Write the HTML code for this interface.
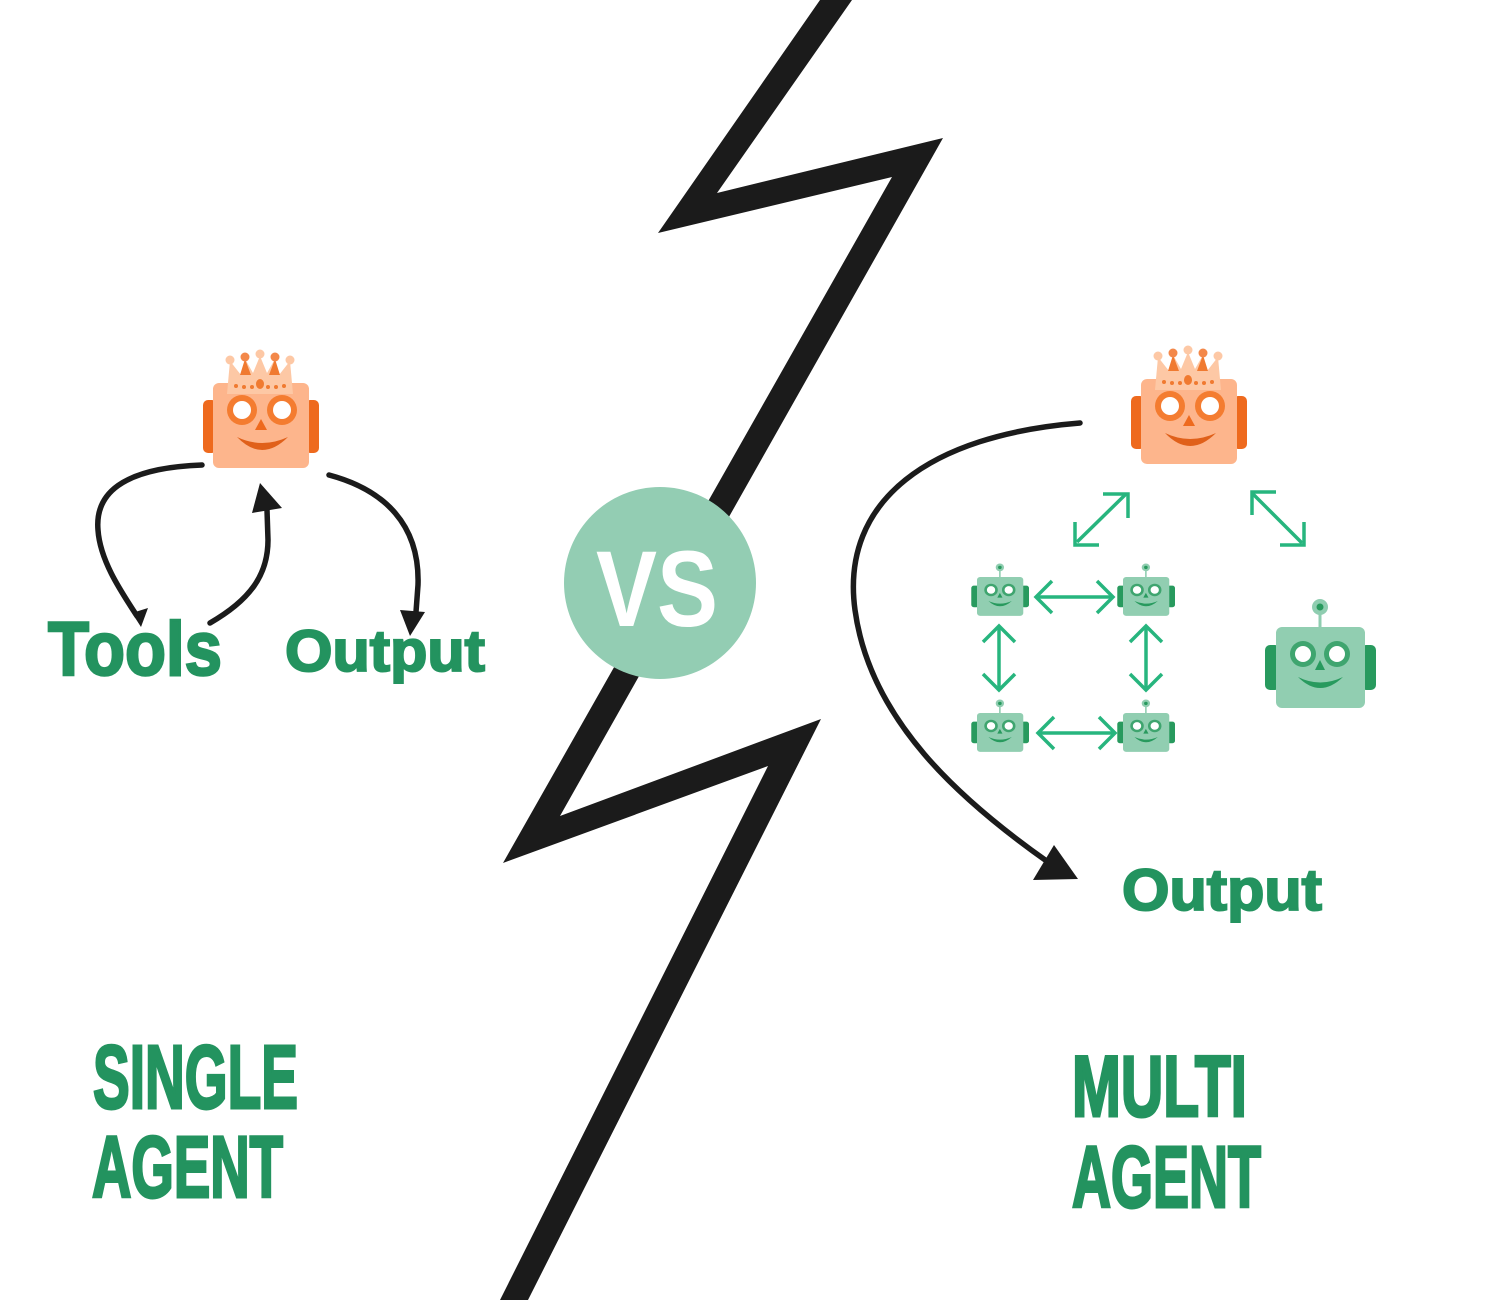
<!DOCTYPE html>
<html>
<head>
<meta charset="utf-8">
<style>
html,body{margin:0;padding:0;background:#ffffff;}
svg{display:block;}
</style>
</head>
<body>
<svg width="1500" height="1300" viewBox="0 0 1500 1300" xmlns="http://www.w3.org/2000/svg">
<defs>
  <g id="orobot">
    <rect x="-10" y="17" width="14" height="53" rx="5" fill="#ee6a1e"/>
    <rect x="92" y="17" width="14" height="53" rx="5" fill="#ee6a1e"/>
    <rect x="0" y="0" width="96" height="85" rx="6" fill="#fdb58c"/>
    <path d="M14,11 L17,-22 L28,-8 L32,-24 L40,-10 L47,-27 L54,-10 L62,-24 L66,-8 L77,-22 L80,11 Z" fill="#fdc8a5"/>
    <path d="M32,-24 L27,-8 L38,-8 Z" fill="#f07a30"/>
    <path d="M62,-24 L56,-8 L67,-8 Z" fill="#f07a30"/>
    <circle cx="17" cy="-23" r="4.5" fill="#fdc8a5"/>
    <circle cx="32" cy="-26" r="4.5" fill="#f3884a"/>
    <circle cx="47" cy="-29" r="4.5" fill="#fdc8a5"/>
    <circle cx="62" cy="-26" r="4.5" fill="#f3884a"/>
    <circle cx="77" cy="-23" r="4.5" fill="#fdc8a5"/>
    <ellipse cx="47" cy="1" rx="4" ry="5" fill="#f07a30"/>
    <circle cx="23" cy="3" r="2" fill="#f07a30"/>
    <circle cx="31" cy="4" r="2" fill="#f07a30"/>
    <circle cx="39" cy="4" r="2" fill="#f07a30"/>
    <circle cx="55" cy="4" r="2" fill="#f07a30"/>
    <circle cx="63" cy="4" r="2" fill="#f07a30"/>
    <circle cx="71" cy="3" r="2" fill="#f07a30"/>
    <circle cx="29" cy="27" r="15" fill="#f47c30"/>
    <circle cx="29" cy="27" r="9" fill="#ffffff"/>
    <circle cx="69" cy="27" r="15" fill="#f47c30"/>
    <circle cx="69" cy="27" r="9" fill="#ffffff"/>
    <path d="M48,36 L42,47 L54,47 Z" fill="#ee6a1e"/>
    <path d="M24,54 Q49,80 75,54 Q49,66 24,54 Z" fill="#e0601a"/>
  </g>
  <g id="grobot">
    <rect x="-11" y="18" width="15" height="45" rx="5" fill="#289a5e"/>
    <rect x="85" y="18" width="15" height="45" rx="5" fill="#289a5e"/>
    <rect x="42.5" y="-16" width="3" height="18" fill="#8fcdb0"/>
    <circle cx="44" cy="-20" r="8" fill="#8fcdb0"/>
    <circle cx="44" cy="-20" r="3.5" fill="#289a5e"/>
    <rect x="0" y="0" width="89" height="81" rx="6" fill="#91ceb1"/>
    <circle cx="27" cy="27" r="13" fill="#3fa56f"/>
    <circle cx="27" cy="27" r="8" fill="#ffffff"/>
    <circle cx="61" cy="27" r="13" fill="#3fa56f"/>
    <circle cx="61" cy="27" r="8" fill="#ffffff"/>
    <path d="M44,33 L39,43 L49,43 Z" fill="#289a5e"/>
    <path d="M22,50 Q44,72 67,50 Q44,61 22,50 Z" fill="#289a5e"/>
  </g>
</defs>

<!-- lightning bolt -->
<polygon points="820,0 658,233 892,177 503,863 768,766 500,1300 528,1300 821,719 560,816 943,138 717,193 852,0" fill="#1b1b1b"/>

<!-- VS circle -->
<circle cx="660" cy="583" r="96" fill="#93cdb3"/>
<text x="596" y="626" font-family="Liberation Sans, sans-serif" font-weight="bold" font-size="108" fill="#ffffff" textLength="122" lengthAdjust="spacingAndGlyphs">VS</text>

<!-- left robot -->
<use href="#orobot" transform="translate(213,383)"/>

<!-- left arrows -->
<g fill="none" stroke="#1b1b1b" stroke-width="5.5" stroke-linecap="round">
  <path d="M202,465 C120,468 95,495 98,530 C100,560 120,590 137,616"/>
  <path d="M210,623 C250,600 268,575 268,540 L267,510"/>
  <path d="M329,475 C385,490 420,525 418,585 L416,612"/>
</g>
<polygon points="141,627 132,613 148,608" fill="#1b1b1b"/>
<polygon points="260,483 252,513 282,508" fill="#1b1b1b"/>
<polygon points="410,636 400,610 425,612" fill="#1b1b1b"/>

<!-- left labels -->
<text x="48" y="675" font-family="Liberation Sans, sans-serif" font-weight="bold" font-size="76" fill="#23935f" textLength="174" lengthAdjust="spacingAndGlyphs" stroke="#23935f" stroke-width="2.5">Tools</text>
<text x="285" y="671" font-family="Liberation Sans, sans-serif" font-weight="bold" font-size="58" fill="#23935f" textLength="200" lengthAdjust="spacingAndGlyphs" stroke="#23935f" stroke-width="2">Output</text>

<text x="93" y="1108" font-family="Liberation Sans Narrow, Liberation Sans, sans-serif" font-weight="bold" font-size="90" fill="#23935f" textLength="205" lengthAdjust="spacingAndGlyphs" stroke="#23935f" stroke-width="3">SINGLE</text>
<text x="92" y="1197" font-family="Liberation Sans Narrow, Liberation Sans, sans-serif" font-weight="bold" font-size="87" fill="#23935f" textLength="191" lengthAdjust="spacingAndGlyphs" stroke="#23935f" stroke-width="3">AGENT</text>

<!-- right orange robot -->
<use href="#orobot" transform="translate(1141,379)"/>

<!-- right big black arrow -->
<path d="M1080,423 C930,435 840,500 855,610 C870,720 960,800 1048,862" fill="none" stroke="#1b1b1b" stroke-width="5.5" stroke-linecap="round"/>
<polygon points="1078,879 1033,880 1054,845" fill="#1b1b1b"/>

<!-- green arrows -->
<g fill="none" stroke="#27b57e" stroke-width="3.5">
  <path d="M1077,542 L1126,494"/>
  <path d="M1103,494 L1128,494 L1128,518"/>
  <path d="M1075,522 L1075,545 L1099,545"/>
  <path d="M1253,494 L1302,543"/>
  <path d="M1276,492 L1252,492 L1252,515"/>
  <path d="M1304,522 L1304,545 L1280,545"/>
  <path d="M1036,597 L1113,597"/>
  <path d="M1052,581 L1036,597 L1052,613"/>
  <path d="M1097,581 L1113,597 L1097,613"/>
  <path d="M1038,733 L1115,733"/>
  <path d="M1054,717 L1038,733 L1054,749"/>
  <path d="M1099,717 L1115,733 L1099,749"/>
  <path d="M999,626 L999,690"/>
  <path d="M983,642 L999,626 L1015,642"/>
  <path d="M983,674 L999,690 L1015,674"/>
  <path d="M1146,626 L1146,690"/>
  <path d="M1130,642 L1146,626 L1162,642"/>
  <path d="M1130,674 L1146,690 L1162,674"/>
</g>

<!-- small green robots -->
<use href="#grobot" transform="translate(977,577) scale(0.52,0.48)"/>
<use href="#grobot" transform="translate(1123,577) scale(0.52,0.48)"/>
<use href="#grobot" transform="translate(977,713) scale(0.52,0.48)"/>
<use href="#grobot" transform="translate(1123,713) scale(0.52,0.48)"/>

<!-- big green robot -->
<use href="#grobot" transform="translate(1276,627)"/>

<!-- right labels -->
<text x="1122" y="910" font-family="Liberation Sans, sans-serif" font-weight="bold" font-size="58" fill="#23935f" textLength="200" lengthAdjust="spacingAndGlyphs" stroke="#23935f" stroke-width="2">Output</text>

<text x="1072" y="1116" font-family="Liberation Sans Narrow, Liberation Sans, sans-serif" font-weight="bold" font-size="86" fill="#23935f" textLength="175" lengthAdjust="spacingAndGlyphs" stroke="#23935f" stroke-width="3">MULTI</text>
<text x="1072" y="1207" font-family="Liberation Sans Narrow, Liberation Sans, sans-serif" font-weight="bold" font-size="87" fill="#23935f" textLength="189" lengthAdjust="spacingAndGlyphs" stroke="#23935f" stroke-width="3">AGENT</text>
</svg>
</body>
</html>
